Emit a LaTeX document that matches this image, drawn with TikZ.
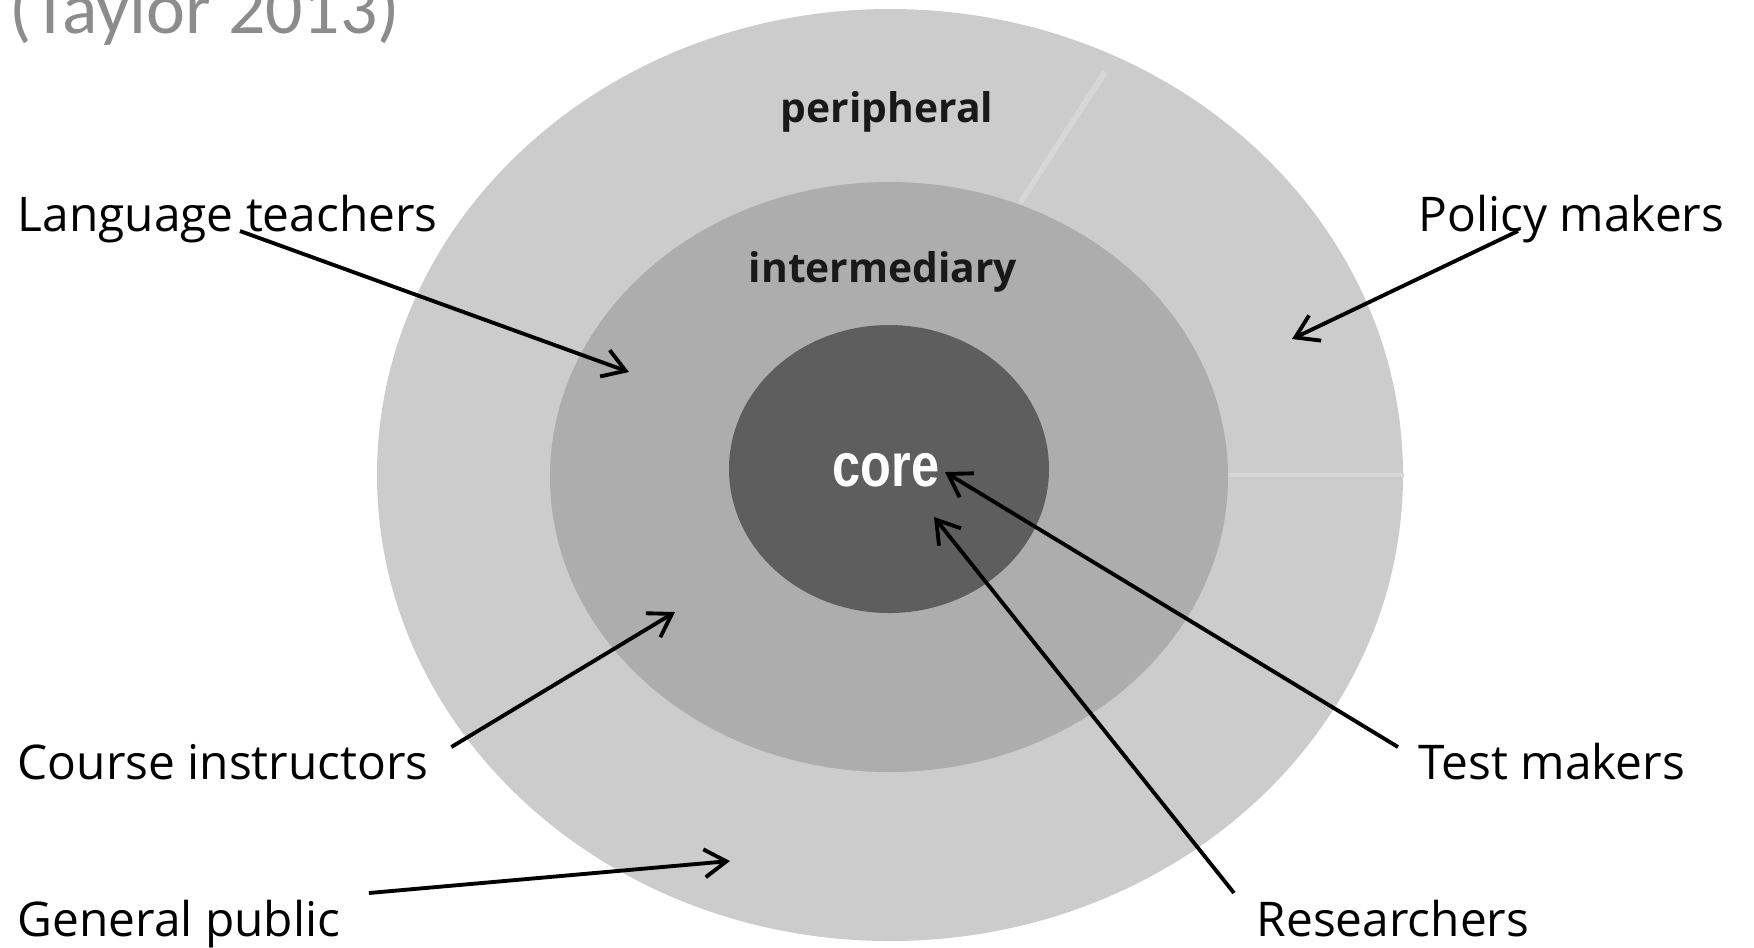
\documentclass[tikz,border=0pt]{standalone}
\usepackage{fontspec}
\setmainfont{Open Sans}
\newfontfamily\citefont{Carlito}
\newfontfamily\corefont{Liberation Sans}
\usetikzlibrary{calc,arrows.meta}

\definecolor{ringout}{gray}{0.80}
\definecolor{ringmid}{gray}{0.68}
\definecolor{ringcore}{gray}{0.37}
\definecolor{seam}{gray}{0.845}
\definecolor{citegray}{gray}{0.55}

\tikzset{
  who/.style={anchor=base west, inner sep=0pt, font=\fontsize{13.6}{16}\selectfont},
  ring/.style={inner sep=0pt, text=black!90, font=\fontsize{11.6}{14}\selectfont\bfseries},
  pointer/.style={-{Straight Barb[length=2.2mm,width=2.8mm]}, line width=1.1pt}
}

\begin{document}
\begin{tikzpicture}[x=0.01cm, y=-0.01cm]
	%\draw[help lines] (0,0) grid[step=100] (1754,947);
	\useasboundingbox (0,0) rectangle (1754,947);
	% rings
	\fill[ringout] (890,475) circle [x radius=513, y radius=466];
	\draw[seam, line width=1.6pt] (1020,203)--(1105,72);
	\draw[seam, line width=1.4pt] (1228,475)--(1404,475);
	\fill[ringmid] (889,477) circle [x radius=339, y radius=295];
	\fill[ringcore] (889,469) circle [x radius=160, y radius=144];
	\node[ring] (peri) at (887,112) {peripheral};
	\node[ring] (inter) at (883,272) {intermediary};
	\node[inner sep=0pt, text=white, font=\corefont\fontsize{17.5}{20}\selectfont\bfseries] (core) at (886,470) {\scalebox{0.82}[1]{core}};
	% source
	\node[anchor=base west, inner sep=0pt, text=citegray, font=\citefont\fontsize{21}{24}\selectfont] (cite) at (9,33) {(Taylor 2013)};
	% stakeholders
	\node[who] (teach) at (17,231) {Language teachers};
	\node[who] (policy) at (1418,231) {Policy makers};
	\node[who] (course) at (17,779) {Course instructors};
	\node[who] (public) at (17,936) {General public};
	\node[who] (test) at (1418,779) {Test makers};
	\node[who] (research) at (1256,936) {Researchers};
	\coordinate (teach-end) at (629,372);
	\coordinate (policy-end) at (1292,339);
	\coordinate (course-end) at (675,612);
	\coordinate (public-end) at (730,861);
	\coordinate (test-end) at (945,472);
	\coordinate (research-end) at (934,517);
	\draw[pointer] ($(teach.base west)+(223,0)$) -- (teach-end);
	\draw[pointer] ($(policy.base west)+(100,0)$) -- (policy-end);
	\draw[pointer] ($(course.base east)+(22,-32)$) -- (course-end);
	\draw[pointer] ($(public.base east)+(28,-43)$) -- (public-end);
	\draw[pointer] ($(test.base west)+(-20,-32)$) -- (test-end);
	\draw[pointer] ($(research.base west)+(-22,-43)$) -- (research-end);
\end{tikzpicture}
\end{document}
